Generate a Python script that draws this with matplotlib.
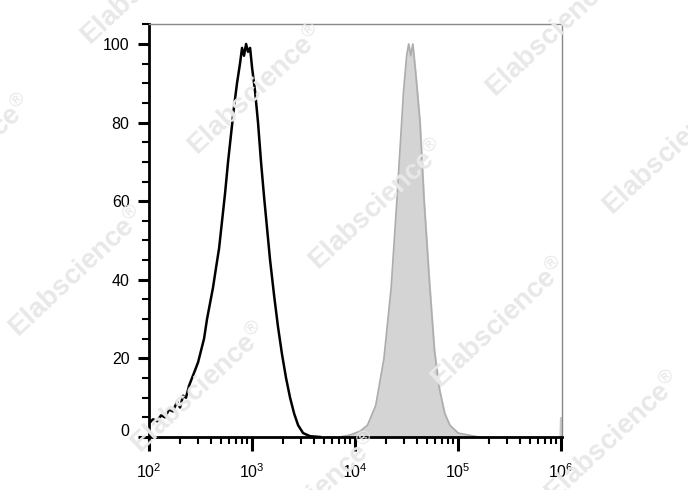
import numpy as np
import matplotlib
matplotlib.use("Agg")
import matplotlib.pyplot as plt
from matplotlib.ticker import LogLocator, NullFormatter, MultipleLocator
from matplotlib.transforms import ScaledTranslation

plt.rcParams['font.family'] = ['Liberation Sans', 'DejaVu Sans']
plt.rcParams['mathtext.fontset'] = 'custom'
plt.rcParams['mathtext.rm'] = 'Liberation Sans'
plt.rcParams['mathtext.it'] = 'Liberation Sans:italic'
plt.rcParams['mathtext.bf'] = 'Liberation Sans:bold'

# black outline histogram (log10 intensity, % of max)
black_log = [2.000, 2.039, 2.078, 2.117, 2.155, 2.194, 2.233, 2.272, 2.301, 2.330,
             2.359, 2.388, 2.417, 2.447, 2.476, 2.505, 2.534, 2.563, 2.592, 2.621,
             2.650, 2.680, 2.709, 2.738, 2.767, 2.796, 2.825, 2.854, 2.883, 2.903,
             2.922, 2.942, 2.961, 2.981, 3.000, 3.029, 3.058, 3.087, 3.117, 3.146,
             3.175, 3.214, 3.252, 3.291, 3.330, 3.369, 3.408, 3.447, 3.495, 3.563, 3.660]
black_val = [3.5, 4.5, 4, 5.5, 5, 7, 6.5, 9, 7.5, 10.5,
             10, 13, 15, 17, 19, 22, 25, 30, 34, 38,
             43, 48, 55, 62, 70, 77, 84, 90, 95, 99,
             97, 100, 98, 99, 94, 88, 80, 70, 61, 53,
             45, 36, 28, 21, 15, 10, 6, 3, 1, 0.2, 0]

# grey filled histogram
grey_log = [3.85, 3.95, 4.05, 4.12, 4.20, 4.28, 4.35, 4.40, 4.44, 4.47, 4.50,
            4.52, 4.54, 4.56, 4.59, 4.63, 4.67, 4.72, 4.77, 4.82, 4.87, 4.92,
            5.00, 5.10, 5.20]
grey_val = [0, 0.5, 1.5, 3, 8, 20, 38, 58, 75, 88, 97,
            100, 97, 100, 92, 80, 60, 40, 22, 12, 6, 3,
            1, 0.5, 0]
edge_log = [5.985, 5.99, 6.0]
edge_val = [0, 5, 5]

y_ticks = [0, 20, 40, 60, 80, 100]

fig = plt.figure(figsize=(6.88, 4.90), dpi=100)
ax = fig.add_axes([0.2166, 0.1082, 0.6003, 0.843])

# watermark (pixel centres, some run off the edge like the original)
marks = [(150, -20), (257, 90), (-35, 160), (555, 32), (378, 205), (672, 150),
         (78, 272), (200, 388), (500, 323), (614, 437), (312, 498)]
for px, py in marks:
    fig.text(px / 688, 1 - py / 490, 'Elabscience$^{\u00ae}$', rotation=43,
             ha='center', va='center', fontsize=20, fontweight='bold',
             color='#e8e8e8', zorder=0)

gx = 10 ** np.array(grey_log)
ax.fill_between(gx, grey_val, color='#d4d4d4', zorder=2)
ax.plot(gx, grey_val, color='#adadad', lw=1.2, zorder=2)
ex = 10 ** np.array(edge_log)
ax.fill_between(ex, edge_val, color='#c8c8c8', zorder=2)

ax.plot(10 ** np.array(black_log), black_val, color='black', lw=1.8, zorder=3)

ax.set_xscale('log')
ax.set_xlim(100, 1.02e6)
ax.set_ylim(0, 105.1)
ax.patch.set_alpha(0)

ax.xaxis.set_major_locator(LogLocator(base=10, numticks=10))
ax.xaxis.set_minor_locator(LogLocator(base=10, subs=np.arange(2, 10), numticks=10))
ax.xaxis.set_minor_formatter(NullFormatter())
ax.set_yticks(y_ticks)
ax.yaxis.set_minor_locator(MultipleLocator(5))

for s in ['left', 'bottom']:
    ax.spines[s].set_linewidth(2)
for s in ['top', 'right']:
    ax.spines[s].set_linewidth(1)
    ax.spines[s].set_color('#888888')

ax.tick_params(axis='both', which='major', direction='out', length=8, width=2.2,
               labelsize=11.5, pad=6)
ax.tick_params(axis='both', which='minor', direction='out', length=5, width=1.5)
ax.tick_params(axis='x', which='major', length=10, pad=8)

# the "0" label sits a little above its tick
zero_lbl = ax.yaxis.get_major_ticks()[0].label1
zero_lbl.set_transform(zero_lbl.get_transform() + ScaledTranslation(0, 0.07, fig.dpi_scale_trans))

fig.savefig('out.png', dpi=100)
